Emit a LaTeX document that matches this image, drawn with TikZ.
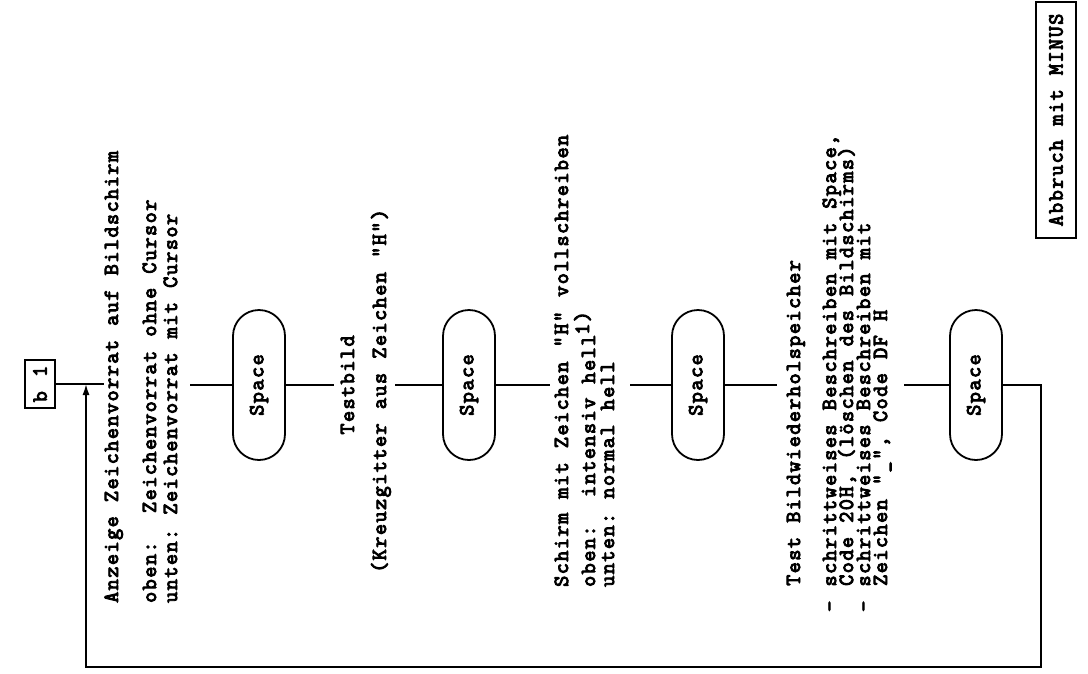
\documentclass[tikz,border=0pt]{standalone}
\usepackage{fontspec}
% typewriter face at printer pitch
\newfontfamily\typew{Latin Modern Mono}[LetterSpace=7,WordSpace=1.134,FakeBold=4.5]
\usetikzlibrary{shapes.misc,arrows.meta}
\begin{document}
\begin{tikzpicture}[x=1pt,y=-1pt,
  tw/.style={font=\typew\fontsize{21.5}{15}\selectfont},
  ln/.style={tw,rotate=90,anchor=base west,inner sep=0pt},
  lnc/.style={ln,anchor=base},
  key/.style={tw,draw,rounded rectangle,rotate=90,line width=1.8pt,
    minimum width=150pt,minimum height=52pt,inner sep=0pt},
  tag/.style={tw,draw,rotate=90,line width=1.5pt,inner sep=0pt},
  flow/.style={line width=1.6pt},
  back/.style={line width=1.6pt,-{Latex[length=11pt,width=7pt]}}]
\useasboundingbox (0,0) rectangle (1088,673);

% entry label
\node[tag,minimum width=48pt,minimum height=30pt] (b1) at (40,384) {b 1};

% step 1: character set
\node[ln] (a1) at (118,603) {Anzeige Zeichenvorrat auf Bildschirm};
\node[ln] (a2) at (156,603) {oben:\ \ Zeichenvorrat ohne Cursor};
\node[ln] (a3) at (177,603) {unten:\ Zeichenvorrat mit Cursor};

% step 2: test pattern
\node[lnc] (t1) at (354,385) {Testbild};
\node[ln] (t2) at (386,573) {(Kreuzgitter aus Zeichen "H")};

% step 3: full screen
\node[ln] (s1) at (568,587) {Schirm mit Zeichen "H" vollschreiben};
\node[ln] (s2) at (595,587) {oben:\ \ intensiv hell\raisebox{6pt}{1)}};
\node[ln] (s3) at (614,587) {unten:\ normal hell};

% step 4: refresh memory
\node[ln] (m1) at (800,586) {Test Bildwiederholspeicher};
\node[ln] (m2) at (836,612) {- schrittweises Beschreiben mit Space,};
\node[ln] (m3) at (853,586) {Code 20H, (löschen des Bildschirms)};
\node[ln] (m4) at (870,612) {- schrittweises Beschreiben mit};
\node[ln] (m5) at (887,586) {Zeichen "\_", Code DF H};

% key presses
\node[key] (k1) at (259,385) {Space};
\node[key] (k2) at (469,385) {Space};
\node[key] (k3) at (698,385) {Space};
\node[key] (k4) at (976,385) {Space};

% abort note
\node[tag,minimum width=236pt,minimum height=40pt] (ab) at (1056,120) {Abbruch mit MINUS};

% joints of the main line
\coordinate (j0) at (86,384);
\coordinate (ja) at (104,384);
\coordinate (jb) at (190,385);
\coordinate (jc) at (334,385);
\coordinate (jd) at (395,385);
\coordinate (je) at (550,385);
\coordinate (jf) at (630,385);
\coordinate (jg) at (777,385);
\coordinate (jh) at (904,385);
\coordinate (r1) at (1041,385);
\coordinate (r2) at (1041,667);
\coordinate (r3) at (86,667);

\draw[flow] (b1) -- (ja);
\draw[flow] (jb) -- (k1);
\draw[flow] (k1) -- (jc);
\draw[flow] (jd) -- (k2);
\draw[flow] (k2) -- (je);
\draw[flow] (jf) -- (k3);
\draw[flow] (k3) -- (jg);
\draw[flow] (jh) -- (k4);
\draw[back] (k4) -- (r1) -- (r2) -- (r3) -- (j0);
\end{tikzpicture}
\end{document}
